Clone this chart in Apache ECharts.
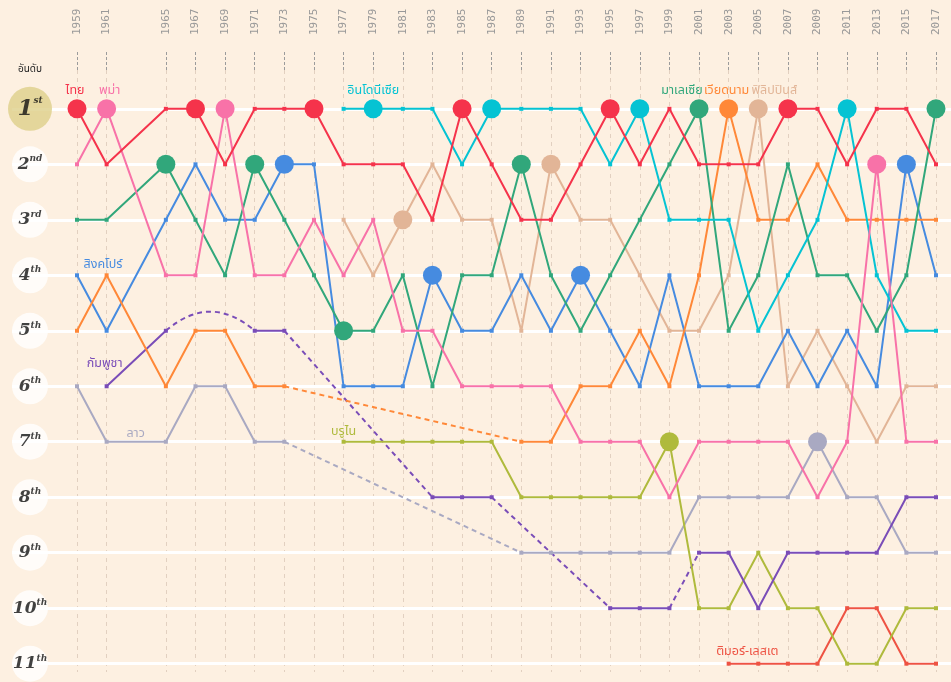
<!DOCTYPE html>
<html>
<head>
<meta charset="utf-8">
<script src="https://cdn.jsdelivr.net/npm/echarts@6/dist/echarts.min.js"></script>
<style>
  html, body { margin: 0; padding: 0; background: #fdf0e1; }
  #chart { width: 951px; height: 682px; }
</style>
</head>
<body>
<div id="chart"></div>
<script>
// แกนปี (ปี 1963 ไม่มีการแข่งขัน แต่เว้นช่องไว้)
const axisYears = ['1959','1961','1963','1965','1967','1969','1971','1973','1975','1977','1979','1981','1983','1985','1987','1989','1991','1993','1995','1997','1999','2001','2003','2005','2007','2009','2011','2013','2015','2017'];
const years = ['1959','1961','1965','1967','1969','1971','1973','1975','1977','1979','1981','1983','1985','1987','1989','1991','1993','1995','1997','1999','2001','2003','2005','2007','2009','2011','2013','2015','2017'];
const ranks = [1,2,3,4,5,6,7,8,9,10,11];
const rankSuffix = ['st','nd','rd','th','th','th','th','th','th','th','th'];

// เจ้าภาพแต่ละปี
const hosts = ['ไทย','พม่า','มาเลเซีย','ไทย','พม่า','มาเลเซีย','สิงคโปร์','ไทย','มาเลเซีย','อินโดนีเซีย','ฟิลิปปินส์','สิงคโปร์','ไทย','อินโดนีเซีย','มาเลเซีย','ฟิลิปปินส์','สิงคโปร์','ไทย','อินโดนีเซีย','บรูไน','มาเลเซีย','เวียดนาม','ฟิลิปปินส์','ไทย','ลาว','อินโดนีเซีย','พม่า','สิงคโปร์','มาเลเซีย'];

// อันดับของแต่ละประเทศ (null = ไม่ได้เข้าร่วม)
const thailand    = [1,2,1,1,2,1,1,1,2,2,2,3,1,2,3,3,2,1,2,1,2,2,2,1,1,2,1,1,2];
const myanmar     = [2,1,4,4,1,4,4,3,4,3,5,5,6,6,6,6,7,7,7,8,7,7,7,7,8,7,2,7,7];
const indonesia   = [null,null,null,null,null,null,null,null,1,1,1,1,2,1,1,1,1,2,1,3,3,3,5,4,3,1,4,5,5];
const malaysia    = [3,3,2,3,4,2,3,4,5,5,4,6,4,4,2,4,5,4,3,2,1,5,4,2,4,4,5,4,1];
const vietnam     = [5,4,6,5,5,6,6,null,null,null,null,null,null,null,7,7,6,6,5,6,4,1,3,3,2,3,3,3,3];
const philippines = [null,null,null,null,null,null,null,null,3,4,3,2,3,3,5,2,3,3,4,5,5,4,1,6,5,6,7,6,6];
const singapore   = [4,5,3,2,3,3,2,2,6,6,6,4,5,5,4,5,4,5,6,4,6,6,6,5,6,5,6,2,4];
const cambodia    = [null,6,5,null,null,5,5,null,null,null,null,8,8,8,null,null,null,10,10,10,9,9,10,9,9,9,9,8,8];
const laos        = [6,7,7,6,6,7,7,null,null,null,null,null,null,null,9,9,9,9,9,9,8,8,8,8,7,8,8,9,9];
const brunei      = [null,null,null,null,null,null,null,null,7,7,7,7,7,7,8,8,8,8,8,7,10,10,9,10,10,11,11,10,10];
const timorLeste  = [null,null,null,null,null,null,null,null,null,null,null,null,null,null,null,null,null,null,null,null,null,11,11,11,11,10,10,11,11];

// ช่วงที่ลากเส้นประ [ประเทศ, จากปี, ถึงปี]
const dashedLinks = [
  ['กัมพูชา','1965','1971'],
  ['กัมพูชา','1973','1983'],
  ['กัมพูชา','1987','1995'],
  ['กัมพูชา','1999','2001'],
  ['เวียดนาม','1973','1989'],
  ['ลาว','1973','1989']
];

const thaiFont = "'Noto Sans Thai', 'Noto Sans', 'DejaVu Sans', sans-serif";

// สีและตำแหน่งป้ายชื่อ
const countries = [
  { name: 'ลาว',         values: laos,        color: '#a9a9c2', labelYear: '1961', offset: [29, 5] },
  { name: 'ติมอร์-เลสเต', values: timorLeste,  color: '#ee5343', labelYear: '2005', offset: [-11, 1] },
  { name: 'บรูไน',        values: brunei,      color: '#afba3c', labelYear: '1977', offset: [0, 3] },
  { name: 'กัมพูชา',      values: cambodia,    color: '#7a4db8', labelYear: '1961', offset: [-2, -9] },
  { name: 'ฟิลิปปินส์',   values: philippines, color: '#e2b597', labelYear: '2005', offset: [16, 3] },
  { name: 'สิงคโปร์',     values: singapore,   color: '#468be0', labelYear: '1959', offset: [26, 3] },
  { name: 'เวียดนาม',     values: vietnam,     color: '#ff8838', labelYear: '2003', offset: [-2, 3] },
  { name: 'มาเลเซีย',     values: malaysia,    color: '#31a77b', labelYear: '2001', offset: [-17, 3] },
  { name: 'อินโดนีเซีย',  values: indonesia,   color: '#05c3d3', labelYear: '1979', offset: [0, 3] },
  { name: 'พม่า',         values: myanmar,     color: '#f872a8', labelYear: '1961', offset: [3, 3] },
  { name: 'ไทย',          values: thailand,    color: '#f5334b', labelYear: '1959', offset: [-2, 3] }
];

const skip1963 = (idx, val) => val !== '1963';

const chart = echarts.init(document.getElementById('chart'));

// สร้างข้อมูลเส้นของแต่ละประเทศ
function buildLine(c) {
  const out = [];
  years.forEach((y, i) => {
    const item = { value: [y, c.values[i]] };
    if (hosts[i] === c.name) {
      item.symbol = 'circle';
      item.symbolSize = 19;
    }
    if (c.labelYear === y) {
      item.label = {
        show: true,
        position: 'top',
        distance: 4,
        offset: c.offset,
        formatter: c.name,
        color: c.color,
        fontSize: 12.5,
        fontFamily: thaiFont
      };
    }
    out.push(item);
    // ตัดเส้นทึบตรงช่วงที่เป็นเส้นประ
    if (dashedLinks.some(d => d[0] === c.name && d[1] === y)) {
      out.push({ value: [y, null] });
    }
  });
  return out;
}

const lineSeries = countries.map((c, k) => ({
  type: 'line',
  name: c.name,
  xAxisIndex: 0,
  yAxisIndex: 0,
  data: buildLine(c),
  color: c.color,
  symbol: 'rect',
  symbolSize: 4,
  showAllSymbol: true,
  clip: false,
  z: 3 + k,
  lineStyle: { width: 2, color: c.color },
  itemStyle: { color: c.color },
  emphasis: { disabled: true }
}));

const dashSeries = {
  type: 'lines',
  coordinateSystem: 'cartesian2d',
  xAxisIndex: 0,
  yAxisIndex: 0,
  silent: true,
  z: 2,
  lineStyle: { width: 2, type: [5, 4], opacity: 1 },
  data: dashedLinks.map(([n, a, b]) => {
    const c = countries.find(cc => cc.name === n);
    const v1 = c.values[years.indexOf(a)];
    const v2 = c.values[years.indexOf(b)];
    return {
      coords: [[axisYears.indexOf(a), v1], [axisYears.indexOf(b), v2]],
      lineStyle: { color: c.color, curveness: v1 === v2 ? 0.43 : 0 }
    };
  })
};

// เส้นขาวแนวนอนของแต่ละอันดับ
const rowLines = {
  type: 'line',
  xAxisIndex: 1,
  yAxisIndex: 1,
  data: [],
  z: 0,
  markLine: {
    z: 0,
    silent: true,
    symbol: 'none',
    label: { show: false },
    lineStyle: { color: '#ffffff', width: 3, type: 'solid' },
    data: ranks.map(r => ({ yAxis: r }))
  }
};

// วงกลมบอกอันดับด้านซ้าย
const badges = {
  type: 'scatter',
  xAxisIndex: 2,
  yAxisIndex: 2,
  z: 20,
  silent: true,
  data: ranks.map((r, i) => ({
    value: [0, r],
    symbolSize: r === 1 ? 44 : 36,
    itemStyle: { color: r === 1 ? '#ddd08a' : '#ffffff' },
    label: {
      show: true,
      position: 'inside',
      formatter: (r === 1 ? '{b|' : '{n|') + r + '}{s|' + rankSuffix[i] + '}',
      rich: {
        b: { fontFamily: 'DejaVu Serif', fontWeight: 'bold', fontStyle: 'italic', fontSize: 23, color: '#111', lineHeight: 26 },
        n: { fontFamily: 'DejaVu Serif', fontWeight: 'bold', fontStyle: 'italic', fontSize: 17, color: '#111', lineHeight: 20 },
        s: { fontFamily: 'DejaVu Serif', fontWeight: 'bold', fontStyle: 'italic', fontSize: 9, color: '#111', verticalAlign: 'top', lineHeight: 10 }
      }
    }
  }))
};

const yRange = { type: 'value', inverse: true, min: 0.3, max: 11.15, show: false };

const option = {
  backgroundColor: '#fdf0e1',
  animation: false,
  grid: [
    { left: 77, right: 15, top: 70, bottom: 10 },
    { left: 12, right: 0, top: 70, bottom: 10 },
    { left: 12, width: 36, top: 70, bottom: 10 }
  ],
  xAxis: [
    {
      gridIndex: 0,
      type: 'category',
      data: axisYears,
      position: 'top',
      boundaryGap: false,
      axisLine: { show: false },
      axisTick: { show: true, length: 18, interval: skip1963, lineStyle: { color: '#9b9b9b', type: [3, 2] } },
      axisLabel: { rotate: -90, margin: 35, interval: skip1963, color: '#999999', fontSize: 11, fontFamily: 'DejaVu Sans Mono' },
      splitLine: { show: true, interval: skip1963, lineStyle: { color: '#e2d0c0', type: [4, 4] } }
    },
    { gridIndex: 1, type: 'value', min: 0, max: 1, show: false },
    {
      gridIndex: 2,
      type: 'category',
      data: ['อันดับ'],
      position: 'top',
      axisLine: { show: false },
      axisTick: { show: false },
      axisLabel: { margin: -5, color: '#222', fontSize: 10, fontFamily: thaiFont }
    }
  ],
  yAxis: [
    Object.assign({ gridIndex: 0 }, yRange),
    Object.assign({ gridIndex: 1 }, yRange),
    Object.assign({ gridIndex: 2 }, yRange)
  ],
  series: [rowLines, dashSeries].concat(lineSeries, [badges])
};

chart.setOption(option);
</script>
</body>
</html>
